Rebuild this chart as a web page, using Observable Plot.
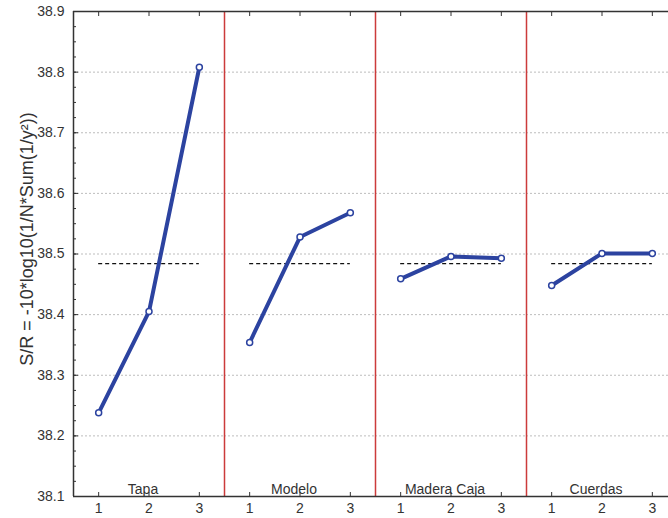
<!DOCTYPE html>
<html>
<head>
<meta charset="utf-8">
<script src="https://cdn.jsdelivr.net/npm/d3@7"></script>
<script src="https://cdn.jsdelivr.net/npm/@observablehq/plot@0.6"></script>
<style>
  body { margin: 0; background: #fff; }
  #chart { width: 668px; height: 518px; overflow: hidden; }
  #chart svg { max-width: none; }
</style>
</head>
<body>
<div id="chart"></div>
<script>
// Main-effects plot of the S/R ratio for each factor and level
const factors = ["Tapa", "Modelo", "Madera Caja", "Cuerdas"];
const levels = [1, 2, 3];
const tapa = [38.238, 38.405, 38.808];
const modelo = [38.354, 38.528, 38.568];
const maderaCaja = [38.459, 38.496, 38.493];
const cuerdas = [38.448, 38.501, 38.501];
const grandMean = 38.484;
const yTicks = [38.1, 38.2, 38.3, 38.4, 38.5, 38.6, 38.7, 38.8, 38.9];
const yGrid = [38.2, 38.3, 38.4, 38.5, 38.6, 38.7, 38.8];
const yLabel = "S/R = -10*log10(1/N*Sum(1/y²))";

const series = [tapa, modelo, maderaCaja, cuerdas];
const rows = factors.flatMap((factor, i) =>
  levels.map((level, j) => ({factor, level, sr: series[i][j]}))
);
// minor ticks every 0.025 along the y axis
const yMinor = d3.range(0, 33).map(i => +(38.1 + i * 0.025).toFixed(3));

const blue = "#2c43a0";
const red = "#cc3b3b";
const ink = "#333";

const chart = Plot.plot({
  width: 680,
  height: 518,
  marginLeft: 73,
  marginRight: 3,
  marginTop: 11,
  marginBottom: 22,
  style: {
    fontFamily: "'Liberation Sans', Arial, sans-serif",
    fontSize: "14px",
    color: ink,
    background: "white"
  },
  fx: {domain: factors, padding: 0, axis: null},
  x: {domain: [0.5, 3.5], label: null},
  y: {domain: [38.1, 38.9], label: null},
  marks: [
    Plot.gridY(yGrid, {stroke: "#bdbdbd", strokeOpacity: 1, strokeDasharray: "2,2"}),
    Plot.ruleX(factors.slice(1), {fx: d => d, x: () => 0.5, stroke: red, strokeWidth: 1.5}),
    Plot.ruleY([38.1, 38.9], {stroke: ink, strokeWidth: 1.5}),
    Plot.ruleX([0.5], {fx: () => factors[0], stroke: ink, strokeWidth: 1.5}),
    Plot.axisY({ticks: yMinor, tickSize: -3, tickFormat: () => "", label: null, stroke: ink}),
    Plot.axisY({ticks: yTicks, tickSize: -5, tickFormat: () => "", label: null, stroke: ink}),
    Plot.axisY({ticks: yTicks, tickSize: 0, tickPadding: 9, tickFormat: d3.format(".1f"), label: null, fill: ink}),
    Plot.axisX({anchor: "top", ticks: levels, tickSize: -4, tickFormat: () => "", label: null, stroke: ink}),
    Plot.axisX({anchor: "bottom", ticks: levels, tickSize: -4, tickFormat: () => "", label: null, stroke: ink}),
    Plot.axisX({anchor: "bottom", ticks: levels, tickSize: 0, tickPadding: 7, tickFormat: d3.format("d"), label: null, fill: ink}),
    Plot.text([yLabel], {
      fx: () => factors[0], frameAnchor: "left", text: d => d,
      textAnchor: "middle", rotate: -90, dx: -46, dy: -15, fontSize: 18, fill: ink
    }),
    Plot.text(factors, {
      fx: d => d, x: () => 2, y: () => 38.1, text: d => d,
      dx: -6, dy: -3, lineAnchor: "bottom", fontSize: 14, fill: ink
    }),
    Plot.ruleY(factors, {
      fx: d => d, y: () => grandMean, x1: () => 1, x2: () => 3,
      stroke: "#111", strokeWidth: 1.2, strokeDasharray: "4,3"
    }),
    Plot.line(rows, {fx: "factor", x: "level", y: "sr", stroke: blue, strokeWidth: 4}),
    Plot.dot(rows, {fx: "factor", x: "level", y: "sr", r: 3, fill: "white", stroke: blue, strokeWidth: 1.5})
  ]
});

document.getElementById("chart").append(chart);
</script>
</body>
</html>
